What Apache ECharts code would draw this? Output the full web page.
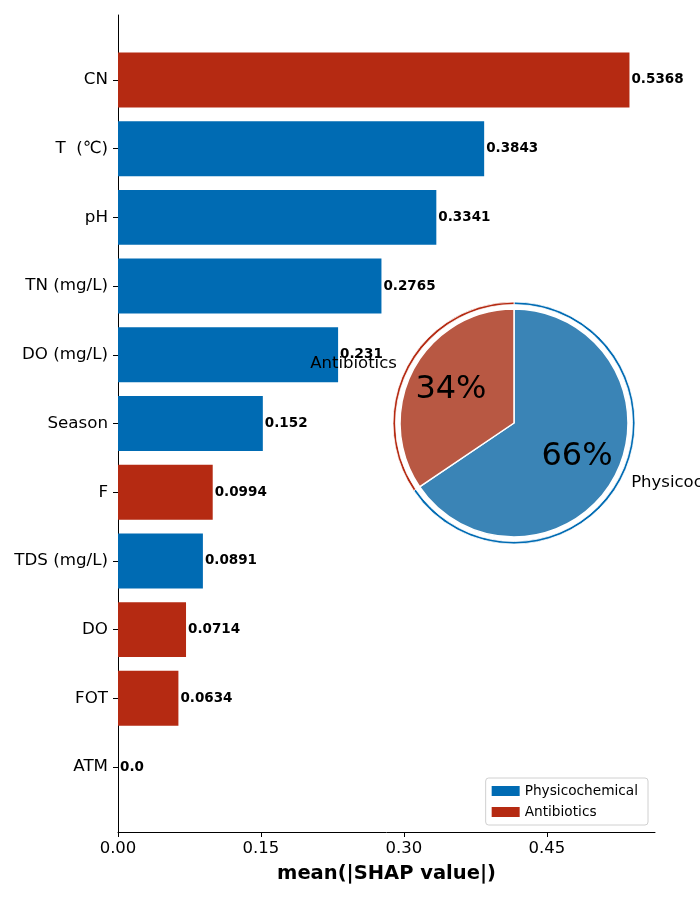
<!DOCTYPE html>
<html>
<head>
<meta charset="utf-8">
<script src="https://cdn.jsdelivr.net/npm/echarts@6/dist/echarts.min.js"></script>
<style>
  html, body { margin: 0; padding: 0; background: #fff; }
  #main { width: 700px; height: 900px; }
</style>
</head>
<body>
<div id="main"></div>
<script>
// features, top to bottom
var features = ['CN', 'T  (\u2103)', 'pH', 'TN (mg/L)', 'DO (mg/L)', 'Season', 'F', 'TDS (mg/L)', 'DO', 'FOT', 'ATM'];
var shapValues = [0.5368, 0.3843, 0.3341, 0.2765, 0.231, 0.152, 0.0994, 0.0891, 0.0714, 0.0634, 0.0];
var valueLabels = ['0.5368', '0.3843', '0.3341', '0.2765', '0.231', '0.152', '0.0994', '0.0891', '0.0714', '0.0634', '0.0'];
var groups = ['A', 'P', 'P', 'P', 'P', 'P', 'A', 'P', 'A', 'A', 'A'];
var groupNames = ['Physicochemical', 'Antibiotics'];
var xTicks = [0, 0.15, 0.30, 0.45];

var BLUE = '#006bb3', RED = '#b52a12';
var PIE_BLUE = '#3a84b6', PIE_RED = '#b85843';
var FONT = 'DejaVu Sans';
var xMax = 0.5636;

var physData = shapValues.map(function (v, i) { return groups[i] === 'P' ? v : '-'; });
var antiData = shapValues.map(function (v, i) { return groups[i] === 'A' ? v : '-'; });
var physSum = 0, antiSum = 0;
shapValues.forEach(function (v, i) { if (groups[i] === 'P') physSum += v; else antiSum += v; });

var barLabel = {
  show: true, position: 'right', distance: 2,
  fontFamily: FONT, fontSize: 13.5, fontWeight: 'bold', color: '#000',
  formatter: function (p) { return valueLabels[p.dataIndex]; }
};

var myChart = echarts.init(document.getElementById('main'));
var option = {
  animation: false,
  backgroundColor: '#fff',
  grid: [
    { left: 118, right: 45, top: 45.6, bottom: 98.6 },
    { left: 118, right: 45, top: 15, bottom: 68 }
  ],
  legend: {
    data: groupNames,
    orient: 'vertical',
    right: 52, bottom: 75,
    icon: 'rect', itemWidth: 28, itemHeight: 10, itemGap: 7,
    padding: [6, 10, 6, 6],
    borderColor: '#d0d0d0', borderWidth: 1, borderRadius: 3,
    textStyle: { fontFamily: FONT, fontSize: 13.7, color: '#000' }
  },
  xAxis: [
    { gridIndex: 0, type: 'value', min: 0, max: xMax, show: false },
    {
      gridIndex: 1, type: 'value', min: 0, max: xMax, interval: 0.15,
      axisLine: { show: true, lineStyle: { color: '#000', width: 1 } },
      axisTick: { show: true, length: 5, lineStyle: { color: '#000' } },
      splitLine: { show: false },
      axisLabel: {
        fontFamily: FONT, fontSize: 16.5, color: '#000', margin: 8,
        showMaxLabel: false,
        formatter: function (v) { return v.toFixed(2); }
      },
      name: 'mean(|SHAP value|)', nameLocation: 'middle', nameGap: 32,
      nameTextStyle: { fontFamily: FONT, fontSize: 19.5, fontWeight: 'bold', color: '#000' }
    }
  ],
  yAxis: [
    {
      gridIndex: 0, type: 'category', data: features, inverse: true,
      axisLine: { show: false },
      axisTick: { show: true, alignWithLabel: true, length: 5, lineStyle: { color: '#000' } },
      axisLabel: { fontFamily: FONT, fontSize: 16.7, color: '#000', margin: 10 }
    },
    {
      gridIndex: 1, type: 'value', min: 0, max: 1,
      axisLine: { show: true, lineStyle: { color: '#000', width: 1 } },
      axisTick: { show: false }, axisLabel: { show: false }, splitLine: { show: false }
    }
  ],
  series: [
    {
      name: 'Physicochemical', type: 'bar', stack: 'shap', data: physData,
      xAxisIndex: 0, yAxisIndex: 0, barCategoryGap: '20%',
      itemStyle: { color: BLUE }, label: barLabel
    },
    {
      name: 'Antibiotics', type: 'bar', stack: 'shap', data: antiData,
      xAxisIndex: 0, yAxisIndex: 0, barCategoryGap: '20%',
      itemStyle: { color: RED }, label: barLabel
    },
    {
      type: 'pie', center: [514, 423], radius: 114,
      startAngle: 90, clockwise: true, percentPrecision: 0,
      avoidLabelOverlap: false,
      data: [
        { name: groupNames[0], value: physSum, itemStyle: { color: PIE_BLUE } },
        { name: groupNames[1], value: antiSum, itemStyle: { color: PIE_RED } }
      ],
      itemStyle: { borderColor: '#fff', borderWidth: 1.5 },
      label: {
        show: true, position: 'outside', formatter: '{b}', overflow: 'none',
        fontFamily: FONT, fontSize: 16.5, color: '#000'
      },
      labelLine: { show: false, length: 13, length2: 0 },
      emphasis: { disabled: true }
    },
    {
      type: 'pie', center: [514, 423], radius: 136.8,
      startAngle: 90, clockwise: true, percentPrecision: 0, silent: true,
      data: [
        { name: groupNames[0], value: physSum },
        { name: groupNames[1], value: antiSum }
      ],
      itemStyle: { color: 'rgba(0,0,0,0)' },
      label: {
        show: true, position: 'inside', formatter: '{d}%',
        fontFamily: FONT, fontSize: 32, color: '#000'
      },
      labelLine: { show: false }
    },
    {
      type: 'pie', center: [514, 423], radius: [118.5, 121],
      startAngle: 90, clockwise: true, silent: true,
      data: [
        { name: groupNames[0], value: physSum, itemStyle: { color: BLUE } },
        { name: groupNames[1], value: antiSum, itemStyle: { color: RED } }
      ],
      itemStyle: { borderColor: '#fff', borderWidth: 0.8 },
      label: { show: false }, labelLine: { show: false }
    }
  ]
};
myChart.setOption(option);
</script>
</body>
</html>
